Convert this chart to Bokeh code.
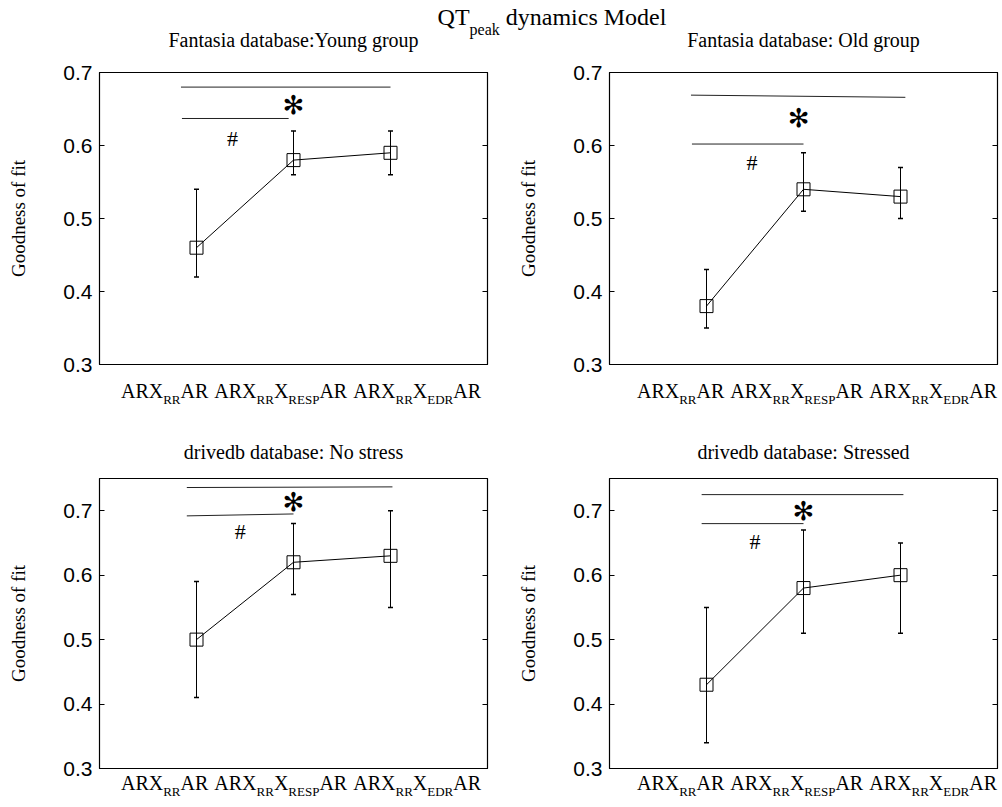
import re
from bokeh.plotting import figure
from bokeh.models import (ColumnDataSource, Whisker, TeeHead, LinearAxis,
                          FixedTicker, Range1d, Div)
from bokeh.layouts import column, row
from bokeh.embed import file_html
from bokeh.resources import INLINE
from bokeh.core.properties import value

# ---------------- data ----------------
suptitle_main = "QT"
suptitle_sub = "peak"
suptitle_rest = " dynamics Model"

titles = ["Fantasia database:Young group", "Fantasia database: Old group",
          "drivedb database: No stress", "drivedb database: Stressed"]
categories = ["ARX_{RR}AR", "ARX_{RR}X_{RESP}AR", "ARX_{RR}X_{EDR}AR"]
x_pos = [1, 2, 3]
y_ticks = [0.3, 0.4, 0.5, 0.6, 0.7]
y_tick_labels = ["0.3", "0.4", "0.5", "0.6", "0.7"]
y_label = "Goodness of fit"
y_top = [0.7, 0.7, 0.75, 0.75]

young_mean = [0.46, 0.58, 0.59]
young_low = [0.42, 0.56, 0.56]
young_high = [0.54, 0.62, 0.62]

old_mean = [0.38, 0.54, 0.53]
old_low = [0.35, 0.51, 0.50]
old_high = [0.43, 0.59, 0.57]

nostress_mean = [0.50, 0.62, 0.63]
nostress_low = [0.41, 0.57, 0.55]
nostress_high = [0.59, 0.68, 0.70]

stressed_mean = [0.43, 0.58, 0.60]
stressed_low = [0.34, 0.51, 0.51]
stressed_high = [0.55, 0.67, 0.65]

# significance bars per panel: (all-models bar, first-two bar)
sig_x0 = [[0.84, 0.85], [0.84, 0.85], [0.90, 0.90], [0.95, 0.95]]
sig_x1 = [[3.00, 1.95], [3.05, 2.00], [3.02, 2.00], [3.03, 2.00]]
sig_y0 = [[0.680, 0.637], [0.669, 0.602], [0.736, 0.692], [0.725, 0.680]]
sig_y1 = [[0.680, 0.637], [0.666, 0.602], [0.737, 0.695], [0.725, 0.680]]
star_x = [2.0, 1.95, 2.0, 2.0]
star_y = [0.655, 0.637, 0.714, 0.700]
hash_x = [1.37, 1.47, 1.45, 1.50]
hash_y = [0.609, 0.577, 0.667, 0.653]
star_symbol = "\u273B"
hash_symbol = "#"

means = [young_mean, old_mean, nostress_mean, stressed_mean]
lows = [young_low, old_low, nostress_low, stressed_low]
highs = [young_high, old_high, nostress_high, stressed_high]

# ---------------- style helpers ----------------
SERIF = "Liberation Serif"
SANS = "Liberation Sans"
DIV_STYLES = {"overflow": "visible", "z-index": "10", "position": "relative"}


def label_html(cat):
    out = []
    for sub, main in re.findall(r"_\{([^}]*)\}|([^_{}]+)", cat):
        if sub:
            out.append('<span style="font-size:13px; position:relative; top:6px">'
                       f'{sub}</span>')
        else:
            out.append(main)
    return "".join(out)


def xlabel_div(width, height, center, top):
    txt = '<span style="display:inline-block; width:6px"></span>'.join(
        label_html(c) for c in categories)
    html = (f'<div style="position:relative; width:{width}px; height:{height}px">'
            f'<div style="position:absolute; left:{center}px; top:{top}px; '
            f'transform:translateX(-50%); white-space:nowrap; line-height:20px; '
            f'font-family:\'{SERIF}\'; font-size:20px; color:black">{txt}</div></div>')
    return Div(text=html, width=width, height=height, margin=0, styles=DIV_STYLES)


def make_panel(i, width, height, bl, br, bt, bb, standoff):
    p = figure(width=width, height=height, x_range=Range1d(0, 4),
               y_range=Range1d(0.3, y_top[i]), output_backend="svg",
               toolbar_location=None, title=titles[i], x_axis_location=None,
               min_border_left=bl, min_border_right=br,
               min_border_top=bt, min_border_bottom=bb)
    p.background_fill_color = "white"
    p.border_fill_color = None
    p.outline_line_color = "black"
    p.outline_line_width = 1.2
    p.xgrid.grid_line_color = None
    p.ygrid.grid_line_color = None

    p.title.text_font = SERIF
    p.title.text_font_size = "20px"
    p.title.text_font_style = "normal"
    p.title.align = "center"
    p.title.standoff = standoff
    p.title.text_color = "black"

    ya = p.yaxis[0]
    ya.ticker = FixedTicker(ticks=y_ticks)
    ya.major_label_overrides = {t: l for t, l in zip(y_ticks, y_tick_labels)}
    ya.major_label_text_font = SANS
    ya.major_label_text_font_size = "21px"
    ya.major_label_text_color = "black"
    ya.major_tick_in = 5
    ya.major_tick_out = 0
    ya.major_label_standoff = 7
    ya.minor_tick_line_color = None
    ya.axis_line_color = "black"
    ya.major_tick_line_color = "black"
    ya.axis_label = y_label
    ya.axis_label_text_font = SERIF
    ya.axis_label_text_font_size = "19px"
    ya.axis_label_text_font_style = "normal"
    ya.axis_label_text_color = "black"
    ya.axis_label_standoff = 31

    ra = LinearAxis(ticker=FixedTicker(ticks=y_ticks),
                    major_label_overrides={t: "" for t in y_ticks},
                    major_tick_in=5, major_tick_out=0, major_label_standoff=0,
                    minor_tick_line_color=None, axis_line_color="black",
                    major_tick_line_color="black")
    p.add_layout(ra, "right")

    src = ColumnDataSource(dict(x=x_pos, mean=means[i], low=lows[i], high=highs[i]))
    p.add_layout(Whisker(source=src, base="x", upper="high", lower="low",
                         line_color="black", line_width=1,
                         upper_head=TeeHead(size=5, line_color="black", line_width=1.5),
                         lower_head=TeeHead(size=5, line_color="black", line_width=1.5)))
    p.line("x", "mean", source=src, line_color="black", line_width=1)
    p.scatter("x", "mean", source=src, marker="square", size=13,
              fill_color=None, line_color="black", line_width=1)

    sig = ColumnDataSource(dict(x0=sig_x0[i], x1=sig_x1[i], y0=sig_y0[i], y1=sig_y1[i]))
    p.segment("x0", "y0", "x1", "y1", source=sig, line_color="#222222", line_width=1)
    p.text(x=[star_x[i]], y=[star_y[i]], text=[star_symbol],
           text_font=value("DejaVu Sans"), text_font_size="26px",
           text_align="center", text_baseline="middle", text_color="black")
    p.text(x=[hash_x[i]], y=[hash_y[i]], text=[hash_symbol],
           text_font=value(SERIF), text_font_size="22px",
           text_align="center", text_baseline="middle", text_color="black")
    return p


# layout (page origin 0,0): suptitle 0..4 (text overflows), top figs 4..376,
#                           xlabels 376..412, bottom figs 412..780, xlabels 780..800
p1 = make_panel(0, 504, 372, 99, 17, 67, 12, 44)
p2 = make_panel(1, 496, 372, 105, 3, 67, 12, 44)
p3 = make_panel(2, 504, 368, 99, 17, 66, 12, 32)
p4 = make_panel(3, 496, 368, 105, 3, 66, 12, 32)

sup_html = (
    '<div style="position:relative; width:1000px; height:4px">'
    '<div style="position:absolute; left:552px; top:-3px; transform:translateX(-50%); '
    f'white-space:nowrap; line-height:24px; font-family:\'{SERIF}\'; font-size:24px; color:black">'
    f'{suptitle_main}<span style="font-size:16px; position:relative; top:10px">'
    f'{suptitle_sub}</span>{suptitle_rest}</div></div>'
)
sup = Div(text=sup_html, width=1000, height=4, margin=0, styles=DIV_STYLES)

xl1 = xlabel_div(504, 36, 301, 5)
xl2 = xlabel_div(496, 36, 313, 5)
xl3 = xlabel_div(504, 20, 301, -7)
xl4 = xlabel_div(496, 20, 313, -7)

layout = column(sup, row(p1, p2), row(xl1, xl2), row(p3, p4), row(xl3, xl4))
open("out.html", "w").write(file_html(layout, INLINE))
